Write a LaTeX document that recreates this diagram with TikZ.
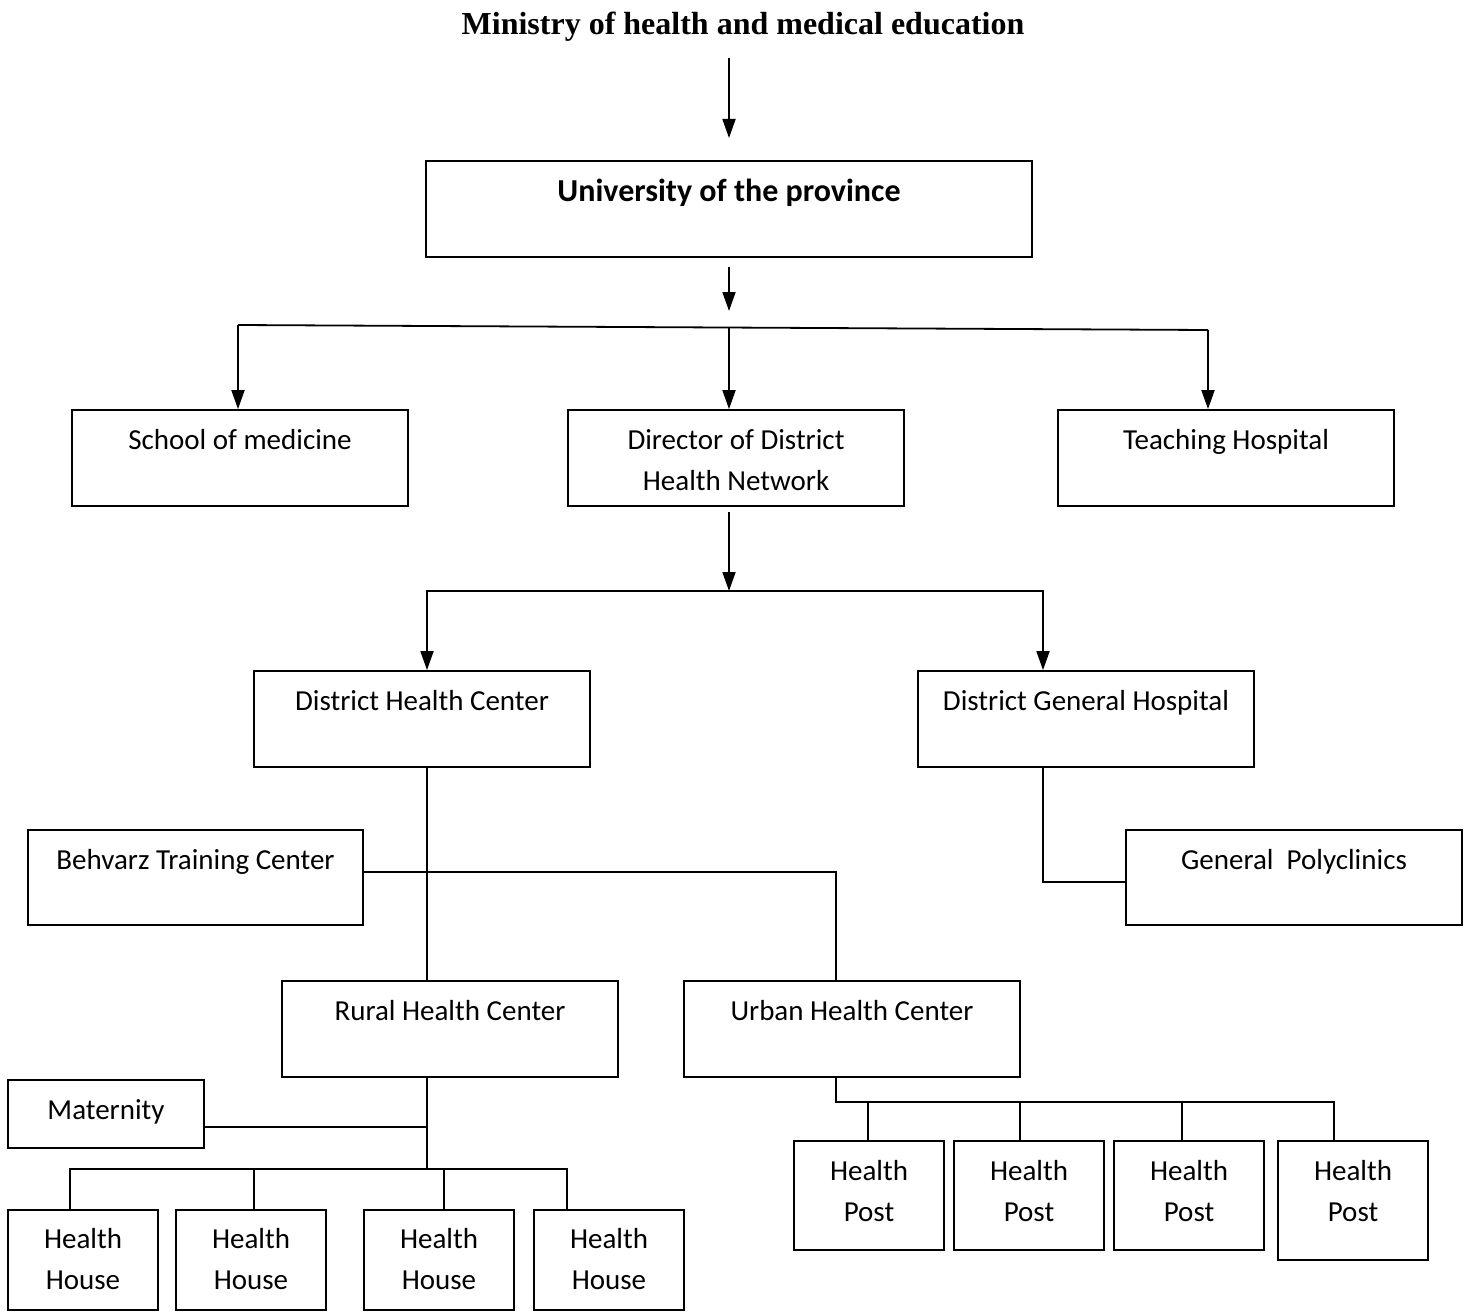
\documentclass[tikz,border=0pt]{standalone}
\usepackage{fontspec}
\setmainfont{Carlito}
\newfontfamily\titlefont{Liberation Serif}
\usetikzlibrary{arrows.meta,calc}
\begin{document}
\begin{tikzpicture}[x=1pt,y=-1pt,
  ln/.style={line width=1.8pt,line cap=rect},
  arr/.style={line width=1.8pt,-{Triangle[length=19pt,width=13pt]}},
  bx/.style 2 args={draw,line width=1.8pt,minimum width=#1,minimum height=#2,inner sep=0pt},
  txt/.style={font=\fontsize{29}{41}\selectfont,anchor=north,inner sep=0pt,align=center}]
\useasboundingbox (0,0) rectangle (1471,1311);

% title
\node[font=\titlefont\bfseries\fontsize{32}{38}\selectfont,inner sep=0pt] (title) at (743,27) {Ministry of health and medical education};
\coordinate (a1s) at (729,58);
\coordinate (a1e) at (729,138);
\draw[arr] (a1s) -- (a1e);

% university
\node[bx={606pt}{96pt}] (uni) at (729,209) {};
\node[font=\fontsize{32}{38}\selectfont\bfseries,inner sep=0pt] (uniT) at (729,193) {University of the province};
\coordinate (a2s) at (729,267);
\coordinate (a2e) at (729,311);
\draw[arr] (a2s) -- (a2e);

% level 2
\node[bx={336pt}{96pt}] (school) at (240,458) {};
\node[bx={336pt}{96pt}] (director) at (736,458) {};
\node[bx={336pt}{96pt}] (teaching) at (1226,458) {};
\node[txt] (schoolT) at ($(school.north)+(0,11)$) {\strut School of medicine};
\node[txt] (directorT) at ($(director.north)+(0,11)$) {\strut Director of District\\\strut Health Network};
\node[txt] (teachingT) at ($(teaching.north)+(0,11)$) {\strut Teaching Hospital};

\coordinate (b1) at (238,325);
\coordinate (b2) at (729,327.5);
\coordinate (b3) at (1208,330);
\draw[line width=1.8pt] (b1) -- (b3);
\draw[arr] (b1) -- (b1|-school.north);
\draw[arr] (b2) -- (b2|-director.north);
\draw[arr] (b3) -- (b3|-teaching.north);

% level 3
\node[bx={336pt}{96pt}] (dhc) at (422,719) {};
\node[bx={336pt}{96pt}] (dgh) at (1086,719) {};
\node[txt] (dhcT) at ($(dhc.north)+(0,11)$) {\strut District Health Center};
\node[txt] (dghT) at ($(dgh.north)+(0,11)$) {\strut District General Hospital};

\coordinate (a3s) at (729,512);
\coordinate (c2) at (729,591);
\coordinate (c1) at (427,591);
\coordinate (c3) at (1043,591);
\draw[arr] (a3s) -- (c2);
\draw[ln] (c1) -- (c3);
\draw[arr] (c1) -- (c1|-dhc.north);
\draw[arr] (c3) -- (c3|-dgh.north);

% level 4
\node[bx={335pt}{95pt}] (behvarz) at (195.5,877.5) {};
\node[bx={336pt}{95pt}] (gp) at (1294,877.5) {};
\node[txt] (behvarzT) at ($(behvarz.north)+(0,11)$) {\strut Behvarz Training Center};
\node[txt] (gpT) at ($(gp.north)+(0,11)$) {\strut General\ \ Polyclinics};

\node[bx={336pt}{96pt}] (rural) at (450,1029) {};
\node[bx={336pt}{96pt}] (urban) at (852,1029) {};
\node[txt] (ruralT) at ($(rural.north)+(0,11)$) {\strut Rural Health Center};
\node[txt] (urbanT) at ($(urban.north)+(0,11)$) {\strut Urban Health Center};

\coordinate (d1) at (427,767);
\draw[line width=1.8pt] (d1|-dhc.south) -- (d1|-rural.north);
\coordinate (bj) at (836,872);
\draw[line width=1.8pt] (behvarz.east|-bj) -- (bj) -- (bj|-urban.north);
\coordinate (gj) at (1043,882);
\draw[line width=1.8pt] (gj|-dgh.south) -- (gj) -- (gj-|gp.west);

% rural branch
\node[bx={196pt}{68pt}] (mat) at (106,1114) {};
\node[txt] (matT) at ($(mat.north)+(0,11)$) {\strut Maternity};
\coordinate (rj) at (427,1169);
\coordinate (mj) at (427,1127);
\draw[line width=1.8pt] (rj|-rural.south) -- (rj);
\draw[line width=1.8pt] (mj-|mat.east) -- (mj);

\foreach \n/\cx in {hh1/83,hh2/251,hh3/439,hh4/609}{
  \node[bx={150pt}{100pt}] (\n) at (\cx,1260) {};
  \node[txt] (\n T) at ($(\n.north)+(0,10)$) {\strut Health\\\strut House};
}
\coordinate (h1) at (70,1169);
\coordinate (h2) at (254,1169);
\coordinate (h3) at (444,1169);
\coordinate (h4) at (567,1169);
\draw[line width=1.8pt] (h1|-hh1.north) -- (h1) -- (h4) -- (h4|-hh4.north);
\draw[line width=1.8pt] (h2) -- (h2|-hh2.north);
\draw[line width=1.8pt] (h3) -- (h3|-hh3.north);

% urban branch
\node[bx={150pt}{109pt}] (hp1) at (869,1195.5) {};
\node[bx={150pt}{109pt}] (hp2) at (1029,1195.5) {};
\node[bx={150pt}{109pt}] (hp3) at (1189,1195.5) {};
\node[bx={150pt}{119pt}] (hp4) at (1353,1200.5) {};
\foreach \n in {hp1,hp2,hp3,hp4}{
  \node[txt] (\n T) at ($(\n.north)+(0,11)$) {\strut Health\\\strut Post};
}
\coordinate (u0) at (836,1102);
\coordinate (p1) at (868,1102);
\coordinate (p2) at (1020,1102);
\coordinate (p3) at (1182,1102);
\coordinate (p4) at (1334,1102);
\draw[line width=1.8pt] (u0|-urban.south) -- (u0) -- (p4) -- (p4|-hp4.north);
\draw[line width=1.8pt] (p1) -- (p1|-hp1.north);
\draw[line width=1.8pt] (p2) -- (p2|-hp2.north);
\draw[line width=1.8pt] (p3) -- (p3|-hp3.north);
\end{tikzpicture}
\end{document}
